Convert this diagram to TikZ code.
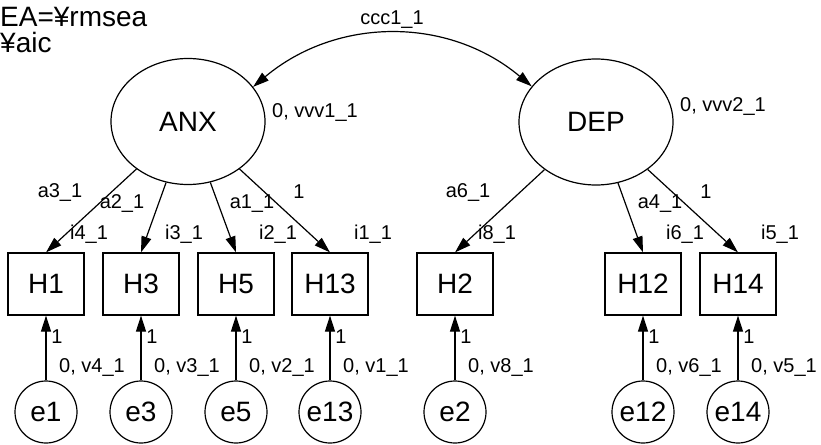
\documentclass[tikz,border=0pt]{standalone}
\usepackage{fontspec}
\setmainfont{Liberation Sans}
\usetikzlibrary{shapes.geometric,arrows.meta}
\begin{document}
\begin{tikzpicture}[x=1pt,y=1pt,
  latent/.style={ellipse, draw, line width=1.2pt, minimum width=154pt, minimum height=126pt, inner sep=0pt, font=\fontsize{28}{30}\selectfont},
  obs/.style={rectangle, draw, line width=1.2pt, minimum width=76pt, minimum height=62pt, inner sep=0pt, font=\fontsize{28}{30}\selectfont},
  err/.style={circle, draw, line width=1.2pt, minimum size=62pt, inner sep=0pt, font=\fontsize{28}{30}\selectfont},
  lbl/.style={inner sep=0pt, font=\fontsize{20}{22}\selectfont},
  toplbl/.style={inner sep=0pt, anchor=west, font=\fontsize{28}{30}\selectfont},
  arr/.style={line width=1.2pt, -{Triangle[length=16pt,width=10pt]}},
  biarr/.style={line width=1.2pt, {Triangle[length=16pt,width=10pt]}-{Triangle[length=16pt,width=10pt]}}
]
\useasboundingbox (0,0) rectangle (821,-444);

% header text
\node[toplbl] (hdr1) at (0,-17) {EA=¥rmsea};
\node[toplbl] (hdr2) at (0,-42) {¥aic};

% latent factors
\node[latent] (ANX) at (188,-121.5) {ANX};
\node[latent] (DEP) at (596,-122) {DEP};

% indicators
\foreach \n/\x in {H1/46, H3/141, H5/236, H13/330, H2/455, H12/643, H14/738}
  \node[obs] (\n) at (\x,-284) {\n};

% error terms
\foreach \n/\x in {e1/46, e3/141, e5/236, e13/330, e2/455, e12/643, e14/738}
  \node[err] (\n) at (\x,-412) {\n};

% factor covariance
\draw[biarr] (ANX.28) to[out=40,in=140] (DEP.151);
\node[lbl] (cov) at (392,-20) {ccc1\_1};

% factor variances
\node[lbl, anchor=west] (varA) at (272,-113) {0, vvv1\_1};
\node[lbl, anchor=west] (varD) at (680,-107) {0, vvv2\_1};

% loadings
\foreach \n in {H1, H3, H5, H13}
  \draw[arr] (ANX) -- (\n.north);
\foreach \n in {H2, H12, H14}
  \draw[arr] (DEP) -- (\n.north);

\node[lbl] (la3) at (60,-193) {a3\_1};
\node[lbl] (la2) at (122,-204) {a2\_1};
\node[lbl] (la1) at (252,-204) {a1\_1};
\node[lbl] (lf1) at (299,-192) {1};
\node[lbl] (la6) at (468,-193) {a6\_1};
\node[lbl] (la4) at (660,-204) {a4\_1};
\node[lbl] (lf2) at (706,-192) {1};

% intercepts
\node[lbl] (i4) at (89,-234) {i4\_1};
\node[lbl] (i3) at (184,-234) {i3\_1};
\node[lbl] (i2) at (278,-234) {i2\_1};
\node[lbl] (i1) at (373,-234) {i1\_1};
\node[lbl] (i8) at (497,-234) {i8\_1};
\node[lbl] (i6) at (685,-234) {i6\_1};
\node[lbl] (i5) at (780,-234) {i5\_1};

% residual paths and variances
\foreach \e/\h/\x/\v in {e1/H1/46/v4, e3/H3/141/v3, e5/H5/236/v2, e13/H13/330/v1, e2/H2/455/v8, e12/H12/643/v6, e14/H14/738/v5} {
  \draw[arr] (\e) -- (\h);
  \node[lbl] (one\e) at (\x+11,-337) {1};
  \node[lbl, anchor=west] (var\e) at (\x+13,-367) {0, \v\_1};
}
\end{tikzpicture}
\end{document}
